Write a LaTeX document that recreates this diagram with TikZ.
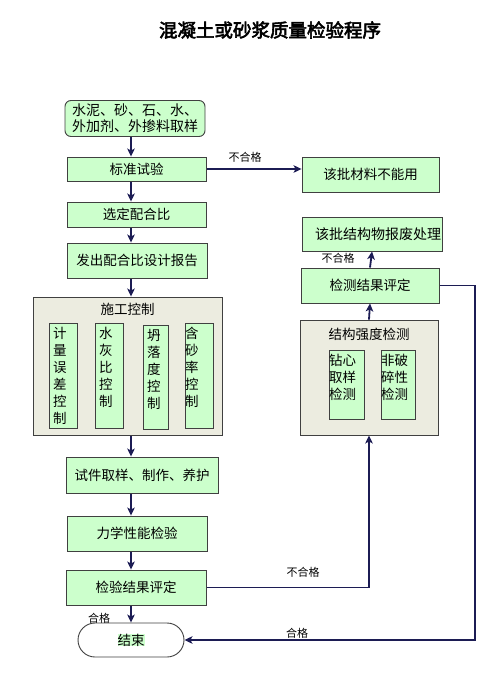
\documentclass[tikz,border=0pt]{standalone}
\usepackage{fontspec}
\setmainfont{Noto Sans CJK SC}
\newfontfamily\cjkbold[FakeBold=3]{Noto Sans CJK SC}
\usepackage{tikz}
\usetikzlibrary{arrows.meta}
\pgfdeclarelayer{edgelayer}
\pgfdeclarelayer{nodelayer}
\pgfsetlayers{edgelayer,nodelayer,main}
\definecolor{lgreen}{RGB}{204,255,204}
\definecolor{lgray}{RGB}{236,236,224}
\definecolor{navy}{RGB}{28,28,84}
\newcommand{\toptext}[3]{\parbox[c][#2][t]{#1}{\vspace*{4pt}#3}}
\tikzstyle{none}=[inner sep=0pt]
\tikzstyle{title}=[inner sep=0pt, font=\cjkbold\fontsize{18.5}{20}\selectfont]
\tikzstyle{proc}=[rectangle,fill=lgreen,draw=black!75,line width=0.9,inner sep=0pt,font=\fontsize{13.5}{16}\selectfont]
\tikzstyle{start}=[proc,rounded corners=6pt,align=left,font=\fontsize{14}{16}\selectfont]
\tikzstyle{group}=[rectangle,fill=lgray,draw=black!75,line width=0.9,inner sep=0pt,font=\fontsize{13.5}{16}\selectfont]
\tikzstyle{vbox}=[rectangle,fill=lgreen,draw=black!75,line width=0.9,inner xsep=4pt,inner ysep=0pt,font=\fontsize{13.5}{17}\selectfont]
\tikzstyle{pbox}=[vbox,inner xsep=0pt]
\tikzstyle{terminal}=[rectangle,rounded corners=17pt,fill=white,draw=black!75,line width=0.9,minimum width=106pt,minimum height=34pt,font=\fontsize{13.5}{16}\selectfont]
\tikzstyle{empty}=[inner sep=0pt,font=\fontsize{11}{13}\selectfont]
\tikzstyle{inarrow}=[-{Stealth[length=8pt,width=7.5pt,inset=2pt]}, draw=navy, line width=1.8]

\begin{document}
\begin{tikzpicture}[x=10pt,y=-10pt]
	\useasboundingbox (0,0) rectangle (49.8,68.2);
	\begin{pgfonlayer}{nodelayer}
		\node [style=title] (t) at (27.0, 3.0) {混凝土或砂浆质量检验程序};
		\node [style=start, minimum width=140pt, minimum height=36pt] (0) at (13.5, 11.85) {水泥、砂、石、水、\\外加剂、外掺料取样};
		\node [style=proc, minimum width=139pt, minimum height=24pt] (1) at (13.65, 16.9) {标准试验};
		\node [style=proc, minimum width=139pt, minimum height=25pt] (2) at (13.65, 21.45) {选定配合比};
		\node [style=proc, minimum width=140pt, minimum height=35pt] (3) at (13.7, 26.05) {发出配合比设计报告};
		\node [style=group] (4) at (12.75, 36.6) {\toptext{189pt}{138pt}{\vspace*{2pt}\centering 施工控制}};
		\node [style=vbox] (5) at (6.3, 37.55) {\toptext{20pt}{105pt}{计\\量\\误\\差\\控\\制}};
		\node [style=vbox] (6) at (10.9, 37.55) {\toptext{20pt}{105pt}{水\\灰\\比\\控\\制}};
		\node [style=vbox] (7) at (15.55, 37.7) {\toptext{17pt}{104pt}{坍\\落\\度\\控\\制}};
		\node [style=pbox] (8) at (19.9, 37.55) {\toptext{28pt}{105pt}{含\\砂\\率\\控\\制}};
		\node [style=proc, minimum width=152pt, minimum height=36pt] (9) at (14.2, 47.5) {试件取样、制作、养护};
		\node [style=proc, minimum width=140pt, minimum height=35pt] (10) at (13.7, 53.35) {力学性能检验};
		\node [style=proc, minimum width=140pt, minimum height=35pt] (11) at (13.6, 58.75) {检验结果评定};
		\node [style=terminal] (12) at (13.1, 64.0) {{\fboxsep=0pt\colorbox{lgreen}{结束}}};
		\node [style=proc, minimum width=137pt, minimum height=35pt] (13) at (37.05, 17.45) {该批材料不能用};
		\node [style=proc, minimum width=140pt, minimum height=34pt, font=\fontsize{14}{16}\selectfont] (14) at (37.2, 23.4) {\hspace*{12pt}该批结构物报废处理};
		\node [style=proc, minimum width=138pt, minimum height=35pt] (15) at (37.0, 28.55) {检测结果评定};
		\node [style=group] (16) at (36.9, 37.75) {\toptext{138pt}{115pt}{\vspace*{4pt}\centering 结构强度检测}};
		\node [style=pbox] (17) at (34.65, 38.45) {\toptext{35pt}{69pt}{钻心\\取样\\检测}};
		\node [style=pbox] (18) at (39.8, 38.45) {\toptext{34pt}{69pt}{非破\\碎性\\检测}};
		\node [style=empty] (19) at (24.5, 15.7) {不合格};
		\node [style=empty] (20) at (33.8, 25.8) {不合格};
		\node [style=empty] (21) at (30.3, 57.2) {不合格};
		\node [style=empty] (22) at (29.7, 63.3) {合格};
		\node [style=empty] (23) at (9.9, 61.8) {合格};
		\coordinate (ax) at (13.1, 0);
		\coordinate (rc) at (47.5, 64.0);
	\end{pgfonlayer}
	\begin{pgfonlayer}{edgelayer}
		\draw [style=inarrow] (0.south -| ax) to (1.north -| ax);
		\draw [style=inarrow] (1.south -| ax) to (2.north -| ax);
		\draw [style=inarrow] (2.south -| ax) to (3.north -| ax);
		\draw [style=inarrow] (3.south -| ax) to (4.north -| ax);
		\draw [style=inarrow] (4.south -| ax) to (9.north -| ax);
		\draw [style=inarrow] (9.south -| ax) to (10.north -| ax);
		\draw [style=inarrow] (10.south -| ax) to (11.north -| ax);
		\draw [style=inarrow] (11.south -| ax) to (12.north -| ax);
		\draw [style=inarrow] (1.east) to (1.east -| 13.west);
		\draw [style=inarrow] (15.north) to (14.south);
		\draw [style=inarrow] (16.north) to (15.south);
		\draw [style=inarrow] (11.east) -| (16.south);
		\draw [style=inarrow] (15.east) -| (rc) -- (12.east);
	\end{pgfonlayer}
\end{tikzpicture}
\end{document}
